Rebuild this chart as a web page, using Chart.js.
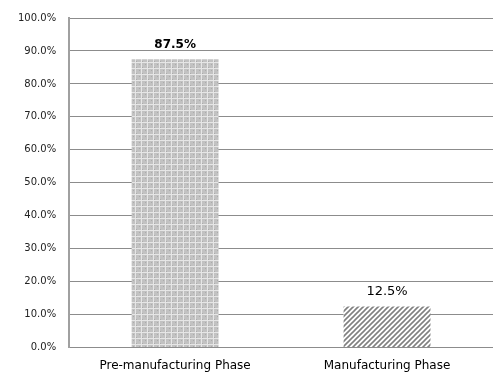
<!DOCTYPE html>
<html><head><meta charset="utf-8">
<script src="https://cdn.jsdelivr.net/npm/chart.js@4"></script>
<style>html,body{margin:0;padding:0;background:#fff}#wrap{width:493px;height:373px}</style>
</head><body><div id="wrap"><canvas id="c" width="493" height="373"></canvas></div>
<script>
const categories = ["Pre-manufacturing Phase", "Manufacturing Phase"];
const shares = [87.5, 12.5];
const valueLabels = ["87.5%", "12.5%"];
const yTicks = [0, 10, 20, 30, 40, 50, 60, 70, 80, 90, 100];

function dotPattern() {
  const p = document.createElement('canvas'); p.width = 6; p.height = 6;
  const g = p.getContext('2d');
  g.fillStyle = '#c2c2c2'; g.fillRect(0, 0, 6, 6);
  g.fillStyle = '#e6e6e6';
  g.fillRect(0, 2, 6, 1); g.fillRect(3, 0, 1, 6);
  g.fillStyle = '#ababab'; g.fillRect(1, 4, 1, 1); g.fillRect(4, 1, 1, 1);
  return g.createPattern(p, 'repeat');
}
function hatchPattern() {
  const p = document.createElement('canvas'); p.width = 5; p.height = 5;
  const g = p.getContext('2d');
  g.fillStyle = '#ffffff'; g.fillRect(0, 0, 5, 5);
  g.strokeStyle = '#808080'; g.lineWidth = 1.6;
  g.beginPath();
  g.moveTo(-1, 6); g.lineTo(6, -1);
  g.moveTo(-1, 1); g.lineTo(1, -1);
  g.moveTo(4, 6); g.lineTo(6, 4);
  g.stroke();
  return g.createPattern(p, 'repeat');
}

const FONT = '"DejaVu Sans", Verdana, sans-serif';

const labelPlugin = {
  id: 'valueLabels',
  afterDatasetsDraw(chart) {
    const ctx = chart.ctx;
    const meta = chart.getDatasetMeta(0);
    meta.data.forEach((bar, i) => {
      ctx.save();
      ctx.fillStyle = '#000';
      ctx.font = (i === 0 ? 'bold 12px ' : '13px ') + FONT;
      ctx.textAlign = 'center';
      ctx.textBaseline = 'middle';
      ctx.fillText(valueLabels[i], bar.x, bar.y - 14.5);
      ctx.restore();
    });
  }
};

new Chart(document.getElementById('c'), {
  type: 'bar',
  data: {
    labels: categories,
    datasets: [{
      data: shares,
      backgroundColor: [dotPattern(), hatchPattern()],
      borderWidth: 0,
      categoryPercentage: 0.82,
      barPercentage: 0.5
    }]
  },
  options: {
    responsive: false,
    animation: false,
    devicePixelRatio: 1,
    layout: { padding: { left: 5, right: 0, top: 0, bottom: -11 } },
    plugins: { legend: { display: false }, tooltip: { enabled: false } },
    scales: {
      x: {
        grid: { display: false, drawTicks: false },
        border: { display: false },
        ticks: { color: '#000', font: { family: FONT, size: 12 }, padding: 11, maxRotation: 0 }
      },
      y: {
        min: 0, max: 100,
        afterBuildTicks(axis) { axis.ticks = yTicks.map(v => ({ value: v })); },
        grid: { color: '#8c8c8c', lineWidth: 1, drawTicks: false },
        border: { display: true, color: '#a0a0a0', width: 2 },
        ticks: {
          color: '#222',
          font: { family: FONT, size: 10, lineHeight: 1 },
          padding: 13,
          callback: v => v.toFixed(1) + '%'
        }
      }
    }
  },
  plugins: [labelPlugin]
});
</script></body></html>
